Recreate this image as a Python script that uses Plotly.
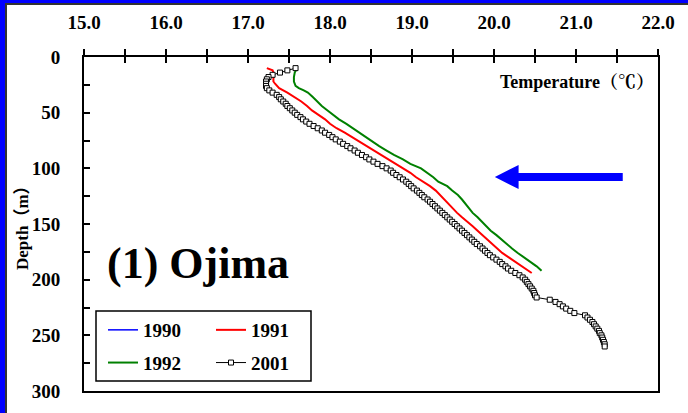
import plotly.graph_objects as go

# ---------------- data ----------------
depth_2001 = [10, 12, 14, 16, 18, 20, 22, 24, 26, 28, 30, 32, 34, 36, 38, 40, 42, 44, 46, 48,
              50, 52, 54, 56, 58, 60, 62, 64, 66, 68, 70, 72, 74, 76, 78, 80, 82, 84, 86, 88,
              90, 92, 94, 96, 98, 100, 102, 104, 106, 108, 110, 112, 114, 116, 118, 120, 122,
              124, 126, 128, 130, 132, 134, 136, 138, 140, 142, 144, 146, 148, 150, 152, 154,
              156, 158, 160, 162, 164, 166, 168, 170, 172, 174, 176, 178, 180, 182, 184, 186,
              188, 190, 192, 194, 196, 198, 200, 202, 204, 206, 208, 210, 212, 214, 216, 218,
              220, 222, 224, 226, 228, 230, 232, 234, 236, 238, 240, 242, 244, 246, 248, 250,
              252, 254, 256, 258, 260]
temp_2001 = [17.58, 17.48, 17.39, 17.30, 17.25, 17.23, 17.22, 17.22, 17.22, 17.23, 17.26, 17.30,
             17.35, 17.38, 17.40, 17.43, 17.46, 17.48, 17.51, 17.54, 17.57, 17.60, 17.64, 17.67,
             17.71, 17.75, 17.80, 17.85, 17.90, 17.94, 17.99, 18.03, 18.07, 18.12, 18.16, 18.21,
             18.25, 18.30, 18.34, 18.39, 18.44, 18.48, 18.53, 18.58, 18.64, 18.69, 18.74, 18.77,
             18.81, 18.85, 18.89, 18.93, 18.96, 18.99, 19.02, 19.06, 19.09, 19.12, 19.15, 19.19,
             19.22, 19.25, 19.28, 19.31, 19.34, 19.37, 19.40, 19.43, 19.46, 19.49, 19.52, 19.55,
             19.58, 19.61, 19.64, 19.67, 19.70, 19.73, 19.76, 19.79, 19.83, 19.86, 19.89, 19.92,
             19.95, 19.99, 20.03, 20.07, 20.10, 20.14, 20.17, 20.21, 20.26, 20.31, 20.35, 20.38,
             20.40, 20.42, 20.44, 20.46, 20.48, 20.49, 20.50, 20.52, 20.68, 20.75, 20.80, 20.84,
             20.88, 20.93, 20.98, 21.11, 21.14, 21.17, 21.20, 21.22, 21.24, 21.26, 21.28, 21.29,
             21.31, 21.32, 21.33, 21.34, 21.35, 21.35]

depth_1991 = [10, 12, 14, 16, 18, 20, 22, 24, 28, 32, 36, 40, 44, 48, 52, 56, 60, 64, 68, 72,
              76, 80, 84, 88, 92, 96, 100, 104, 108, 112, 116, 120, 124, 128, 132, 136, 140,
              144, 148, 152, 156, 160, 164, 168, 172, 176, 180, 184, 188, 192, 194]
temp_1991 = [17.23, 17.30, 17.31, 17.31, 17.31, 17.31, 17.31, 17.33, 17.38, 17.48, 17.57, 17.65,
             17.72, 17.78, 17.86, 17.94, 18.00, 18.08, 18.18, 18.27, 18.36, 18.45, 18.53, 18.62,
             18.71, 18.80, 18.90, 18.98, 19.05, 19.14, 19.22, 19.29, 19.34, 19.40, 19.45, 19.50,
             19.55, 19.61, 19.68, 19.74, 19.80, 19.86, 19.92, 19.98, 20.03, 20.10, 20.18, 20.26,
             20.34, 20.42, 20.46]

depth_1992 = [10, 14, 18, 22, 26, 28, 30, 32, 36, 40, 44, 48, 52, 56, 60, 64, 68, 72, 76, 80,
              84, 88, 92, 96, 100, 104, 108, 112, 116, 120, 124, 128, 132, 136, 140, 144, 148,
              152, 156, 160, 164, 168, 172, 176, 180, 184, 188, 192]
temp_1992 = [17.60, 17.57, 17.56, 17.56, 17.58, 17.62, 17.68, 17.73, 17.79, 17.84, 17.90, 17.97,
             18.04, 18.11, 18.20, 18.28, 18.36, 18.44, 18.51, 18.60, 18.69, 18.78, 18.89, 18.98,
             19.11, 19.19, 19.26, 19.32, 19.43, 19.49, 19.56, 19.61, 19.65, 19.70, 19.74, 19.80,
             19.85, 19.91, 19.96, 20.03, 20.09, 20.16, 20.22, 20.29, 20.37, 20.45, 20.52, 20.58]

# 1990 profile is not visible in the picture (only its legend entry)
depth_1990 = [None]
temp_1990 = [None]

x_ticks = [15.0, 16.0, 17.0, 18.0, 19.0, 20.0, 21.0, 22.0]
x_tick_labels = ["15.0", "16.0", "17.0", "18.0", "19.0", "20.0", "21.0", "22.0"]
y_ticks = [0, 50, 100, 150, 200, 250, 300]

# ---------------- figure ----------------
W, H = 688, 413
ML, MR, MT, MB = 84, 30, 57, 22
PW, PH = W - ML - MR, H - MT - MB


def px_x(p):
    return (p - ML) / PW


def px_y(p):
    return (H - MB - p) / PH


SERIF = "Liberation Serif, Times New Roman, serif"
fig = go.Figure()

fig.add_trace(go.Scatter(x=temp_1990, y=depth_1990, mode="lines", name="1990",
                         line=dict(color="#0000ff", width=1.5), legend="legend",
                         legendgroup="a"))
fig.add_trace(go.Scatter(x=temp_1992, y=depth_1992, mode="lines", name="1992",
                         line=dict(color="#008000", width=2), legend="legend",
                         legendgroup="b"))
fig.add_trace(go.Scatter(x=temp_1991, y=depth_1991, mode="lines", name="1991",
                         line=dict(color="#ff0000", width=2), legend="legend2",
                         legendgroup="c"))
fig.add_trace(go.Scatter(x=temp_2001, y=depth_2001, mode="lines+markers", name="2001",
                         line=dict(color="#000000", width=1),
                         marker=dict(symbol="square", size=5, color="white",
                                     line=dict(color="#000000", width=1)),
                         legend="legend2", legendgroup="d"))

# overlay axis giving the inward half of the crossing ticks on the top axis
fig.add_trace(go.Scatter(x=[None], y=[None], xaxis="x2", yaxis="y", showlegend=False))

tickfont = dict(family=SERIF, size=19, color="black", weight="bold")
legfont = dict(family=SERIF, size=19, color="black", weight=700)
fig.update_layout(
    width=W, height=H,
    margin=dict(l=ML, r=MR, t=MT, b=MB, pad=0),
    paper_bgcolor="white", plot_bgcolor="white",
    font=dict(family=SERIF, color="black"),
    xaxis=dict(range=[15, 22], side="top", tickvals=x_ticks, ticktext=x_tick_labels,
               ticks="outside", ticklen=6, tickwidth=1.5, tickcolor="black",
               minor=dict(dtick=0.5, ticks="outside", ticklen=6, tickwidth=1.5,
                          tickcolor="black"),
               showline=True, linecolor="black", linewidth=2, mirror=True,
               showgrid=False, zeroline=False, tickfont=tickfont,
               ticklabelstandoff=12),
    xaxis2=dict(range=[15, 22], overlaying="x", side="top", tickvals=x_ticks,
                ticks="inside", ticklen=6, tickwidth=1.5, tickcolor="black",
                minor=dict(dtick=0.5, ticks="inside", ticklen=6, tickwidth=1.5,
                           tickcolor="black"),
                showticklabels=False, showline=False, showgrid=False, zeroline=False),
    yaxis=dict(range=[300, 0], tickvals=y_ticks, ticks="inside", ticklen=6, tickwidth=1.5,
               tickcolor="black",
               minor=dict(dtick=25, ticks="inside", ticklen=6, tickwidth=1.5,
                          tickcolor="black"),
               showline=True, linecolor="black", linewidth=2, mirror=True,
               showgrid=False, zeroline=False, tickfont=tickfont,
               ticklabelstandoff=18),
    legend=dict(x=px_x(103), y=px_y(311), xanchor="left", yanchor="top",
                bgcolor="rgba(0,0,0,0)", borderwidth=0, tracegroupgap=5,
                font=legfont, itemwidth=30),
    legend2=dict(x=px_x(211), y=px_y(311), xanchor="left", yanchor="top",
                 bgcolor="rgba(0,0,0,0)", borderwidth=0, tracegroupgap=5,
                 font=legfont, itemwidth=30),
    showlegend=True,
)

shapes = []
# legend frame
shapes.append(dict(type="rect", xref="paper", yref="paper",
                   x0=px_x(96), x1=px_x(311), y0=px_y(381), y1=px_y(311),
                   line=dict(color="black", width=1.5), fillcolor="rgba(0,0,0,0)"))
# blue arrow (data coordinates)
tip, base, tail, yc, hh, sh = 20.01, 20.30, 21.57, 107.8, 10.8, 3.6
shapes.append(dict(type="path", xref="x", yref="y",
                   path=(f"M {tip},{yc} L {base},{yc-hh} L {base},{yc-sh} L {tail},{yc-sh} "
                         f"L {tail},{yc+sh} L {base},{yc+sh} L {base},{yc+hh} Z"),
                   fillcolor="#0000ff", line=dict(width=0)))
# outer blue frame (top and left) with dark inner line
shapes.append(dict(type="rect", xref="paper", yref="paper",
                   x0=px_x(0), x1=px_x(W), y0=px_y(3), y1=px_y(-2),
                   fillcolor="#0000ff", line=dict(width=0), layer="above"))
shapes.append(dict(type="rect", xref="paper", yref="paper",
                   x0=px_x(-2), x1=px_x(5), y0=px_y(H + 2), y1=px_y(-2),
                   fillcolor="#0000ff", line=dict(width=0), layer="above"))
shapes.append(dict(type="rect", xref="paper", yref="paper",
                   x0=px_x(5), x1=px_x(W), y0=px_y(5), y1=px_y(3),
                   fillcolor="#333333", line=dict(width=0), layer="above"))
shapes.append(dict(type="rect", xref="paper", yref="paper",
                   x0=px_x(5), x1=px_x(7), y0=px_y(H + 2), y1=px_y(3),
                   fillcolor="#333333", line=dict(width=0), layer="above"))
fig.update_layout(shapes=shapes)

annotations = [
    dict(text="<b>Temperature（℃）</b>", xref="paper", yref="paper",
         x=px_x(656), y=px_y(82), xanchor="right", yanchor="middle", showarrow=False,
         font=dict(family=SERIF + ", Noto Serif CJK JP, Noto Sans CJK JP", size=18,
                   color="black")),
    dict(text="<b>Depth（m）</b>", xref="paper", yref="paper",
         x=px_x(22), y=px_y(224), xanchor="center", yanchor="middle", showarrow=False,
         textangle=-90,
         font=dict(family=SERIF + ", Noto Sans CJK JP", size=17, color="black")),
    dict(text="<b>(1) Ojima</b>", xref="paper", yref="paper",
         x=px_x(105), y=px_y(263), xanchor="left", yanchor="middle", showarrow=False,
         font=dict(family=SERIF, size=44, color="black")),
]
fig.update_layout(annotations=annotations)

fig.write_html("out.html", config={"displayModeBar": False},
               post_script="document.body.style.margin='0';"
               "document.body.style.overflow='hidden';")
